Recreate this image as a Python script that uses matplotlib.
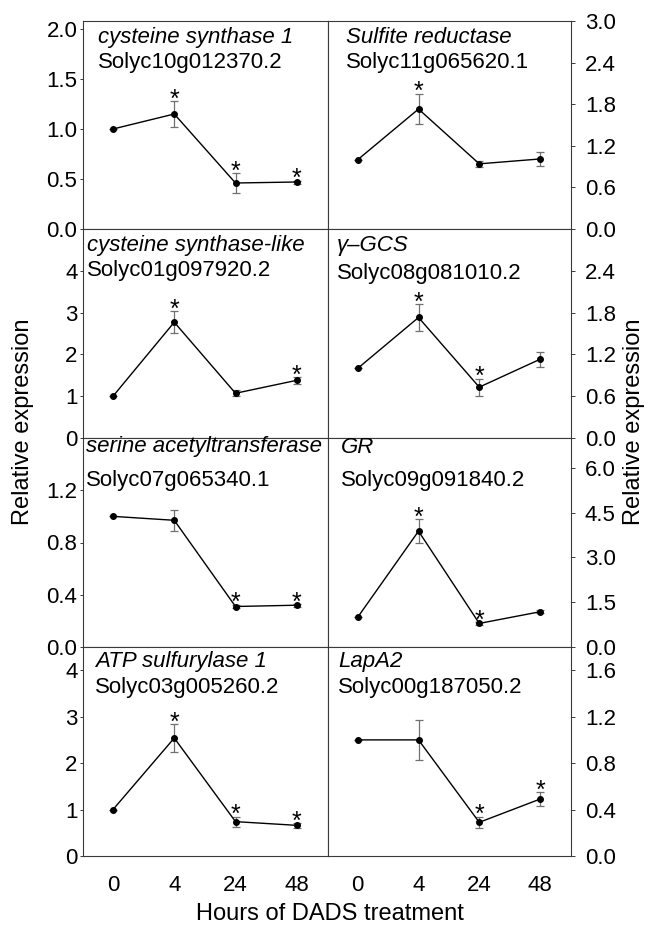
import matplotlib
matplotlib.use("Agg")
import matplotlib.pyplot as plt

plt.rcParams['font.family'] = ['Liberation Sans', 'DejaVu Sans']

# ---------------- data ----------------
hours = ["0", "4", "24", "48"]

gene_names = ["cysteine synthase 1", "Sulfite reductase",
              "cysteine synthase-like", "\u03b3\u2013GCS",
              "serine acetyltransferase", "GR",
              "ATP sulfurylase 1", "LapA2"]
gene_ids = ["Solyc10g012370.2", "Solyc11g065620.1",
            "Solyc01g097920.2", "Solyc08g081010.2",
            "Solyc07g065340.1", "Solyc09g091840.2",
            "Solyc03g005260.2", "Solyc00g187050.2"]

cs1_mean = [1.00, 1.15, 0.46, 0.47]
cs1_err = [0.0, 0.13, 0.10, 0.015]
cs1_sig = [False, True, True, True]

sir_mean = [1.00, 1.73, 0.94, 1.01]
sir_err = [0.0, 0.22, 0.04, 0.10]
sir_sig = [False, True, False, False]

csl_mean = [1.00, 2.77, 1.07, 1.38]
csl_err = [0.0, 0.26, 0.07, 0.08]
csl_sig = [False, True, False, True]

gcs_mean = [1.00, 1.73, 0.73, 1.13]
gcs_err = [0.0, 0.19, 0.12, 0.11]
gcs_sig = [False, True, True, False]

sat_mean = [1.00, 0.97, 0.31, 0.32]
sat_err = [0.0, 0.08, 0.015, 0.01]
sat_sig = [False, False, True, True]

gr_mean = [1.00, 3.88, 0.79, 1.18]
gr_err = [0.0, 0.40, 0.05, 0.05]
gr_sig = [False, True, True, False]

ats_mean = [1.00, 2.54, 0.74, 0.66]
ats_err = [0.0, 0.30, 0.11, 0.05]
ats_sig = [False, True, True, True]

lap_mean = [1.00, 1.00, 0.29, 0.49]
lap_err = [0.0, 0.17, 0.05, 0.06]
lap_sig = [False, False, True, True]

means = [cs1_mean, sir_mean, csl_mean, gcs_mean, sat_mean, gr_mean, ats_mean, lap_mean]
errs = [cs1_err, sir_err, csl_err, gcs_err, sat_err, gr_err, ats_err, lap_err]
sigs = [cs1_sig, sir_sig, csl_sig, gcs_sig, sat_sig, gr_sig, ats_sig, lap_sig]

ytick_vals = [[0, 0.5, 1.0, 1.5, 2.0], [0, 0.6, 1.2, 1.8, 2.4, 3.0],
              [0, 1, 2, 3, 4], [0, 0.6, 1.2, 1.8, 2.4],
              [0, 0.4, 0.8, 1.2], [0, 1.5, 3.0, 4.5, 6.0],
              [0, 1, 2, 3, 4], [0, 0.4, 0.8, 1.2, 1.6]]
ytick_labels = [["0.0", "0.5", "1.0", "1.5", "2.0"],
                ["0.0", "0.6", "1.2", "1.8", "2.4", "3.0"],
                ["0", "1", "2", "3", "4"],
                ["0.0", "0.6", "1.2", "1.8", "2.4"],
                ["0.0", "0.4", "0.8", "1.2"],
                ["0.0", "1.5", "3.0", "4.5", "6.0"],
                ["0", "1", "2", "3", "4"],
                ["0.0", "0.4", "0.8", "1.2", "1.6"]]
ymax = [2.08, 3.0, 5.0, 3.0, 1.6, 7.0, 4.5, 1.8]

# ---------------- layout (pixels) ----------------
W, H = 648, 925
fig = plt.figure(figsize=(W / 100, H / 100), dpi=100)

col_x = [83, 328]
col_w = [245, 243]
row_top = [21, 229, 438, 647]
row_bot = [229, 438, 647, 856]

# text offsets: (dx, baseline line1, baseline line2) in px from top-left corner
txt_pos = [(15, 22, 47), (18, 22, 47),
           (3.5, 22.5, 46.7), (9, 21.7, 50),
           (3, 14.5, 48.5), (13, 14.7, 48),
           (12, 19.7, 45.7), (10, 19.7, 46.3)]

FS = 16
xs = list(range(len(hours)))
edge = "#3a3a3a"

for i in range(8):
    r, c = divmod(i, 2)
    left = col_x[c] / W
    width = col_w[c] / W
    bottom = 1 - row_bot[r] / H
    height = (row_bot[r] - row_top[r]) / H
    ax = fig.add_axes([left, bottom, width, height])

    ax.errorbar(xs, means[i], yerr=errs[i], fmt='none', ecolor='#707070',
                elinewidth=0.9, capsize=2.6, capthick=0.9, zorder=2)
    ax.plot(xs, means[i], color='black', lw=1.0, marker='o', ms=4.0,
            mfc='black', mec='black', zorder=3)

    for x, m, e, s in zip(xs, means[i], errs[i], sigs[i]):
        if s:
            ax.annotate("*", xy=(x, m + e), xytext=(0, -5.5),
                        textcoords='offset pixels', ha='center',
                        va='baseline', fontsize=18, color='black')

    ax.set_xlim(-0.49, 3.51)
    ax.set_ylim(0, ymax[i])
    ax.set_yticks(ytick_vals[i])
    ax.set_yticklabels(ytick_labels[i])
    ax.set_xticks(xs)
    if r == 3:
        ax.set_xticklabels(hours)
    else:
        ax.set_xticklabels([])
    ax.tick_params(axis='x', length=0, pad=13.5, labelsize=FS)
    if c == 0:
        ax.tick_params(axis='y', direction='out', length=2.5, width=0.7,
                       pad=1.5, labelsize=FS, colors=edge, labelcolor='black')
    else:
        ax.yaxis.tick_right()
        ax.tick_params(axis='y', direction='out', length=3, width=0.7,
                       pad=7, labelsize=FS, colors=edge, labelcolor='black')
    for sp in ax.spines.values():
        sp.set_color(edge)
        sp.set_linewidth(0.8)

    dx, b1, b2 = txt_pos[i]
    ax.annotate(gene_names[i], xy=(0, 1), xycoords='axes fraction',
                xytext=(dx, -b1), textcoords='offset pixels',
                ha='left', va='baseline', fontsize=FS, style='italic')
    ax.annotate(gene_ids[i], xy=(0, 1), xycoords='axes fraction',
                xytext=(dx, -b2), textcoords='offset pixels',
                ha='left', va='baseline', fontsize=FS)

fig.text(23 / W, 1 - 422 / H, "Relative expression", rotation=90,
         ha='center', va='center', fontsize=17)
fig.text(634 / W, 1 - 422 / H, "Relative expression", rotation=90,
         ha='center', va='center', fontsize=17)
fig.text(330 / W, 1 - 920 / H, "Hours of DADS treatment",
         ha='center', va='baseline', fontsize=17)

fig.savefig("out.png", dpi=100)
